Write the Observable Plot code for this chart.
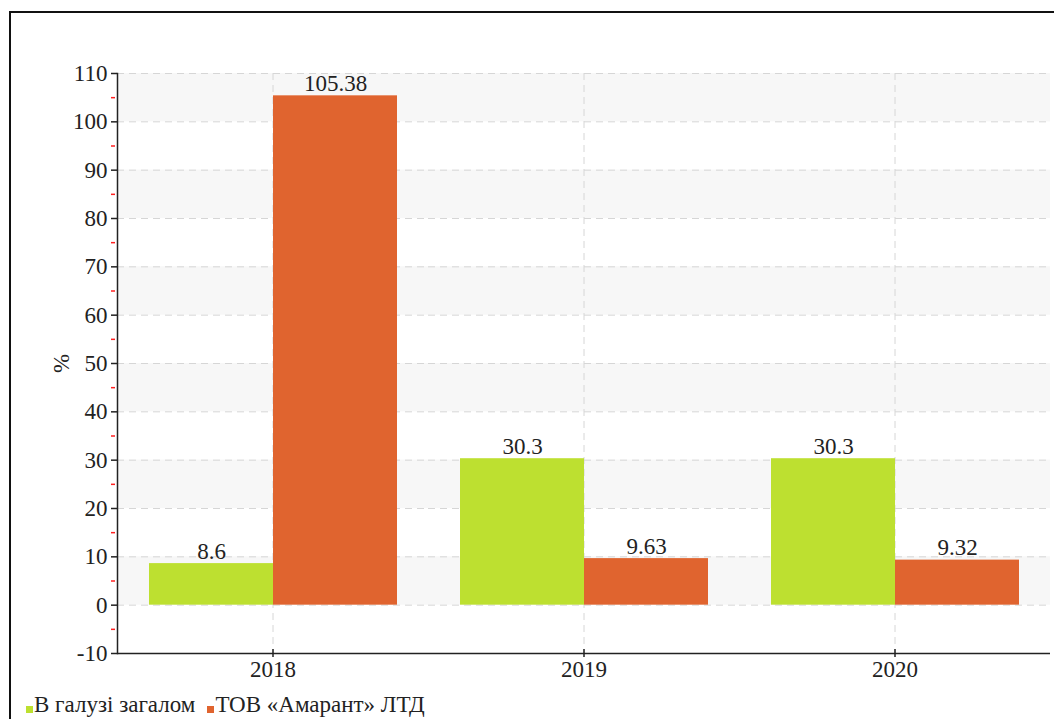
<!DOCTYPE html>
<html><head><meta charset="utf-8">
<script src="https://cdn.jsdelivr.net/npm/d3@7"></script>
<script src="https://cdn.jsdelivr.net/npm/@observablehq/plot@0.6"></script>
<style>
body{margin:0;background:#fff;overflow:hidden;}
#frame{position:absolute;left:9px;top:11px;width:1100px;height:800px;border-top:2px solid #111;border-left:2px solid #111;pointer-events:none;}
#chart{position:absolute;left:0;top:0;}
#legend{position:absolute;left:26px;top:691px;font-size:23px;line-height:28px;color:#222;white-space:nowrap;font-family:'Liberation Serif', serif;}
#legend .item{display:inline-block;margin-right:12px;}
#legend .sw{display:inline-block;width:7px;height:7px;margin-right:1px;vertical-align:-1px;}
</style>
</head><body>
<div id="chart"></div>
<div id="frame"></div>
<div id="legend"></div>
<script>
const years = ["2018", "2019", "2020"];
const series = ["В галузі загалом", "ТОВ «Амарант» ЛТД"];
const industry = [8.6, 30.3, 30.3];
const company = [105.38, 9.63, 9.32];
const yTicks = [-10, 0, 10, 20, 30, 40, 50, 60, 70, 80, 90, 100, 110];
const minorTicks = [-5, 5, 15, 25, 35, 45, 55, 65, 75, 85, 95, 105];
const bandStarts = [0, 20, 40, 60, 80, 100];
const colors = ["#bde030", "#e0642f"];
const FONT = "'Liberation Serif', serif";

const rows = years.flatMap((y, i) => [
  {year: y, series: series[0], value: industry[i]},
  {year: y, series: series[1], value: company[i]}
]);

const chart = Plot.plot({
  width: 1054, height: 685,
  marginLeft: 117, marginRight: 4, marginTop: 73, marginBottom: 32,
  style: {fontFamily: FONT, fontSize: "23px", color: "#222", background: "transparent"},
  fx: {domain: years, padding: 0, label: null},
  x: {domain: series, paddingInner: 0, paddingOuter: 0.245, axis: null},
  y: {domain: [-10, 110], label: "%"},
  color: {domain: series, range: colors},
  marks: [
    Plot.rectY(bandStarts, {y1: d => d, y2: d => d + 10, fill: "#f7f7f7"}),
    Plot.gridY(yTicks, {stroke: "#d6d6d6", strokeOpacity: 1, strokeDasharray: "7,5"}),
    Plot.gridFx({stroke: "#d6d6d6", strokeOpacity: 1, strokeDasharray: "7,5"}),
    Plot.barY(rows, {fx: "year", x: "series", y: "value", fill: "series"}),
    Plot.text(rows, {fx: "year", x: "series", y: "value", text: d => String(d.value), lineAnchor: "bottom", dy: -5, fill: "#222"}),
    Plot.ruleY([-10], {stroke: "#222", strokeWidth: 1.5}),
    Plot.frame({anchor: "left", facetAnchor: "left", stroke: "#222", strokeWidth: 1.5}),
    Plot.axisY(minorTicks, {tickSize: 4, dx: -2, stroke: "#ff2020", strokeWidth: 1.5, strokeOpacity: 1, text: null, label: null}),
    Plot.axisY(yTicks, {tickSize: 6, tickPadding: 4, stroke: "#222", strokeWidth: 1.5, tickFormat: d => String(d), label: "%", labelAnchor: "center", labelOffset: 65, labelArrow: "none"}),
    Plot.axisFx({anchor: "bottom", text: null, tickSize: 8, dy: -4, stroke: "#222", strokeWidth: 1.5, label: null}),
    Plot.axisFx({anchor: "bottom", tickSize: 0, tickPadding: 7, label: null})
  ]
});
document.getElementById("chart").append(chart);
d3.select(chart).selectAll("text, tspan").style("font-family", FONT);

const legend = document.getElementById("legend");
series.forEach((s, i) => {
  const item = document.createElement("span");
  item.className = "item";
  const sw = document.createElement("span");
  sw.className = "sw";
  sw.style.background = colors[i];
  item.append(sw, document.createTextNode(s));
  legend.append(item);
});
</script>
</body></html>
